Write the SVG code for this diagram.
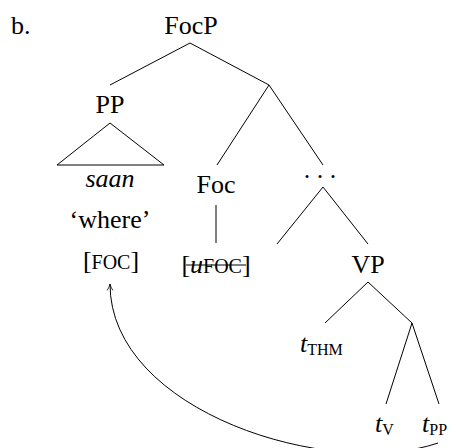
<svg xmlns="http://www.w3.org/2000/svg" width="456" height="448" viewBox="0 0 456 448">
<style>
  text { font-family: "Liberation Serif", "Times New Roman", serif; font-size: 26px; fill: #000; }
  .c { text-anchor: middle; }
  .it { font-style: italic; }
  .sc { font-size: 20px; }
  .sub { font-size: 16px; }
  .edge { stroke: #000; stroke-width: 1; fill: none; }
</style>
<defs>
  <marker id="arr" viewBox="0 0 10 10" refX="9" refY="5" markerWidth="8" markerHeight="8" markerUnits="userSpaceOnUse" orient="auto">
    <path d="M1,1.5 Q5,4 9,5 Q5,6 1,8.5" fill="none" stroke="#000" stroke-width="1"/>
  </marker>
</defs>
<rect width="456" height="448" fill="#fff"/>
<text x="11" y="34">b.</text>
<g id="connectors">
  <path class="edge" d="M190,43 L110,85 M190,43 L269,85"/>
  <path class="edge" d="M110,123 L57,165 L164,165 Z"/>
  <path class="edge" d="M269,85 L217,165 M269,85 L323,165"/>
  <path class="edge" d="M216,205 L216,243"/>
  <path class="edge" d="M323,187 L277,244 M323,187 L368,244"/>
  <path class="edge" d="M368,282 L325,323 M368,282 L412,323"/>
  <path class="edge" d="M412,323 L386,404 M412,323 L439,404"/>
  <path id="move" class="edge" d="M438,443 C330,480 110,412 110,284" marker-end="url(#arr)"/>
</g>
<g id="FocP"><text class="c" x="191" y="34">FocP</text></g>
<g id="PP">
  <text class="c" x="110" y="113">PP</text>
  <text class="c it" x="110" y="187">saan</text>
  <text class="c" x="110" y="228">‘where’</text>
  <text class="c" x="111" y="269">[<tspan class="sc">FOC</tspan>]</text>
</g>
<g id="Foc">
  <text class="c" x="216" y="193">Foc</text>
  <text class="c" x="216" y="273">[<tspan class="it">u</tspan><tspan class="sc">FOC</tspan>]</text>
  <line x1="186" y1="265" x2="246" y2="265" stroke="#000" stroke-width="1"/>
</g>
<g id="dots"><text class="c" x="320" y="178">. . .</text></g>
<g id="VP"><text class="c" x="368" y="273">VP</text></g>
<g id="tTHM"><text x="300" y="352"><tspan class="it">t</tspan><tspan class="sub" dy="3">THM</tspan></text></g>
<g id="tV"><text x="375" y="432"><tspan class="it">t</tspan><tspan class="sub" dy="3">V</tspan></text></g>
<g id="tPP"><text x="422" y="432"><tspan class="it">t</tspan><tspan class="sub" dy="3">PP</tspan></text></g>
</svg>
